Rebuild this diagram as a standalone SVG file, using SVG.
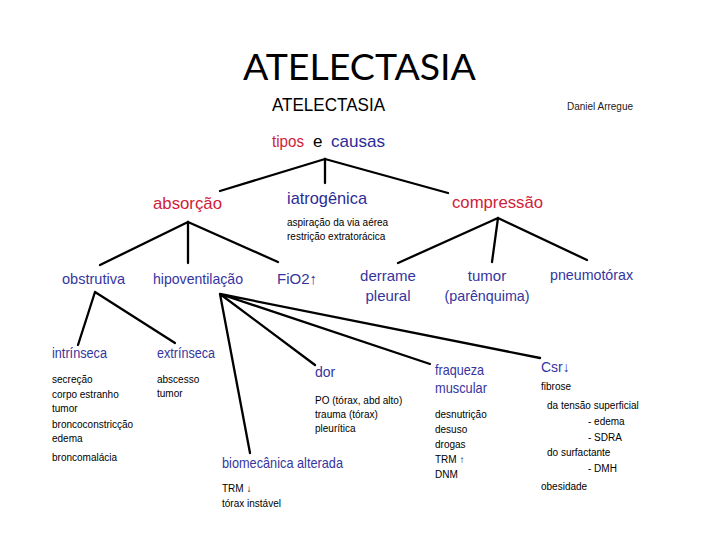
<svg xmlns="http://www.w3.org/2000/svg" width="720" height="540" viewBox="0 0 720 540">
<style>
text{font-family:"Liberation Sans",Arial,sans-serif}
.title{font-family:Lato,"Open Sans",sans-serif;font-size:37px;fill:#000}
.red{fill:#d0213a;font-size:17px}
.blue{fill:#2b2b96;font-size:17px}
.b2{fill:#3535a0;font-size:15px}
.b3{fill:#3535a0;font-size:14px}
.sm{fill:#000;font-size:10px}
.ln{stroke:#000;stroke-width:2.3;fill:none;stroke-linecap:round}
</style>
<rect width="720" height="540" fill="#fff"/>
<text class="title" x="243" y="80" textLength="233" lengthAdjust="spacingAndGlyphs">ATELECTASIA</text>
<g id="header">
<text x="272" y="111" font-size="18" fill="#000" textLength="113" lengthAdjust="spacingAndGlyphs">ATELECTASIA</text>
<text x="567" y="110" font-size="10" fill="#222" textLength="66" lengthAdjust="spacingAndGlyphs">Daniel Arregue</text>
</g>
<g id="connectors">
<path class="ln" d="M325 159 L220 191 M325 159 L325 183 M325 159 L448 193"/>
<path class="ln" d="M188 222 L100 265 M188 222 L188 263 M188 222 L278 262"/>
<path class="ln" d="M498 218 L398 263 M498 218 L492 262 M498 218 L587 260"/>
<path class="ln" d="M95 292 L78 345 M95 292 L175 343"/>
<path class="ln" d="M220 294 L250 453 M220 294 L315 365 M220 294 L430 364 M220 294 L540 358"/>
</g>
<g id="tipos">
<text y="147" font-size="17"><tspan x="272" fill="#d0213a" textLength="32" lengthAdjust="spacingAndGlyphs">tipos</tspan><tspan x="313" fill="#000">e</tspan><tspan x="331" fill="#2b2b96" textLength="54" lengthAdjust="spacingAndGlyphs">causas</tspan></text>
</g>
<g id="absorcao"><text class="red" x="153" y="209" textLength="69" lengthAdjust="spacingAndGlyphs">absorção</text></g>
<g id="iatrogenica">
<text class="blue" x="287" y="204" textLength="80" lengthAdjust="spacingAndGlyphs">iatrogênica</text>
<text class="sm" x="287" y="226">aspiração da via aérea</text>
<text class="sm" x="287" y="240">restrição extratorácica</text>
</g>
<g id="compressao"><text class="red" x="452" y="208" textLength="91" lengthAdjust="spacingAndGlyphs">compressão</text></g>
<g id="obstrutiva"><text class="b2" x="62" y="284" textLength="63" lengthAdjust="spacingAndGlyphs">obstrutiva</text></g>
<g id="hipoventilacao"><text class="b2" x="153" y="284" textLength="90" lengthAdjust="spacingAndGlyphs">hipoventilação</text></g>
<g id="fio2"><text class="b2" x="277" y="284">FiO2↑</text></g>
<g id="derrame">
<text class="b2" x="388" y="281" text-anchor="middle">derrame</text>
<text class="b2" x="388" y="301" text-anchor="middle">pleural</text>
</g>
<g id="tumor">
<text class="b2" x="487" y="281" text-anchor="middle">tumor</text>
<text class="b2" x="487" y="301" text-anchor="middle" textLength="85" lengthAdjust="spacingAndGlyphs">(parênquima)</text>
</g>
<g id="pneumotorax"><text class="b2" x="550" y="280" textLength="83" lengthAdjust="spacingAndGlyphs">pneumotórax</text></g>
<g id="intrinseca">
<text class="b3" x="52" y="358" textLength="55" lengthAdjust="spacingAndGlyphs">intrínseca</text>
<text class="sm" x="52" y="383">secreção</text>
<text class="sm" x="52" y="398">corpo estranho</text>
<text class="sm" x="52" y="412">tumor</text>
<text class="sm" x="52" y="428">broncoconstricção</text>
<text class="sm" x="52" y="442">edema</text>
<text class="sm" x="52" y="461">broncomalácia</text>
</g>
<g id="extrinseca">
<text class="b3" x="157" y="358" textLength="58" lengthAdjust="spacingAndGlyphs">extrínseca</text>
<text class="sm" x="157" y="383">abscesso</text>
<text class="sm" x="157" y="397">tumor</text>
</g>
<g id="dor">
<text class="b3" x="315" y="377">dor</text>
<text class="sm" x="315" y="404">PO (tórax, abd alto)</text>
<text class="sm" x="315" y="418">trauma (tórax)</text>
<text class="sm" x="315" y="432">pleurítica</text>
</g>
<g id="biomecanica">
<text class="b2" x="222" y="468" textLength="121" lengthAdjust="spacingAndGlyphs">biomecânica alterada</text>
<text class="sm" x="222" y="492">TRM ↓</text>
<text class="sm" x="222" y="507">tórax instável</text>
</g>
<g id="fraqueza">
<text class="b2" x="435" y="375" textLength="49" lengthAdjust="spacingAndGlyphs">fraqueza</text>
<text class="b2" x="435" y="393" textLength="52" lengthAdjust="spacingAndGlyphs">muscular</text>
<text class="sm" x="435" y="418">desnutrição</text>
<text class="sm" x="435" y="433">desuso</text>
<text class="sm" x="435" y="448">drogas</text>
<text class="sm" x="435" y="463">TRM ↑</text>
<text class="sm" x="435" y="478">DNM</text>
</g>
<g id="csr">
<text class="b3" x="541" y="372">Csr↓</text>
<text class="sm" x="541" y="390">fibrose</text>
<text class="sm" x="547" y="409">da tensão superficial</text>
<text class="sm" x="588" y="425">- edema</text>
<text class="sm" x="588" y="441">- SDRA</text>
<text class="sm" x="547" y="456">do surfactante</text>
<text class="sm" x="588" y="472">- DMH</text>
<text class="sm" x="541" y="490">obesidade</text>
</g>
</svg>
